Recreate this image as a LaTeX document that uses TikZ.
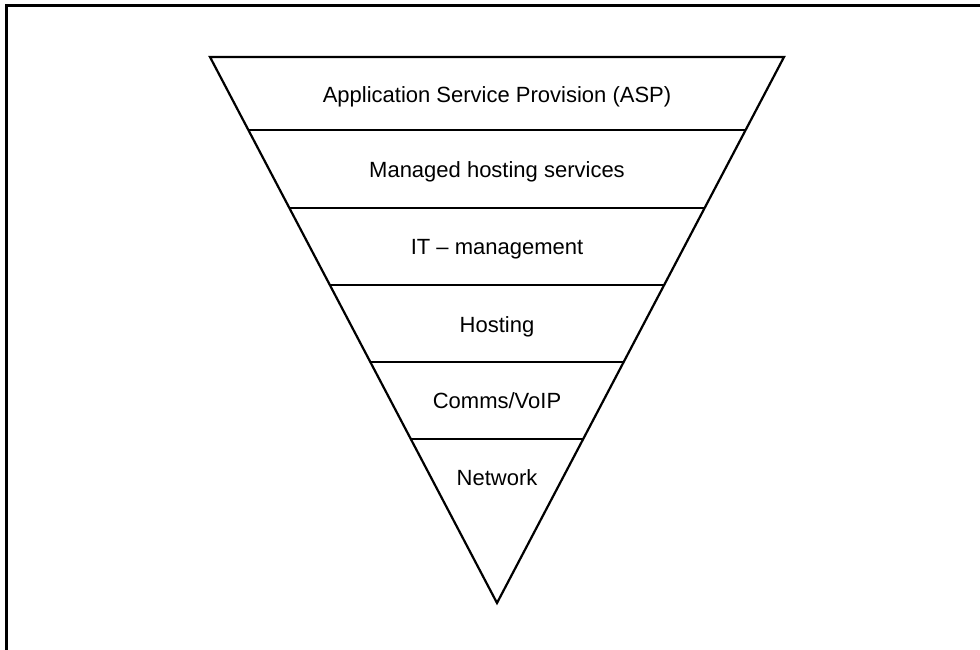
\documentclass[tikz,border=0pt]{standalone}
\usepackage{fontspec}
\setmainfont{Liberation Sans}
\usetikzlibrary{calc}
\begin{document}
\begin{tikzpicture}[x=1pt,y=-1pt,
  frameline/.style={line width=3pt,line cap=rect},
  triline/.style={line width=2.2pt,line join=miter},
  layerline/.style={line width=2.2pt},
  label/.style={anchor=base,font=\fontsize{22}{26}\selectfont,inner sep=0pt}]
\useasboundingbox (0,0) rectangle (980,650);
\coordinate (fl) at (6,650);
\coordinate (fc) at (6,6);
\coordinate (fr) at (980,6);
\draw[frameline] (fl) -- (fc) -- (fr);
\coordinate (tl) at (210,57);
\coordinate (tr) at (784,57);
\coordinate (bt) at (497,603);
\draw[triline] (tl) -- (tr) -- (bt) -- cycle;
\foreach \t [count=\i] in {0.1337,0.2766,0.4176,0.5586,0.6996}{
  \coordinate (l\i) at ($(tl)!\t!(bt)$);
  \coordinate (r\i) at ($(tr)!\t!(bt)$);
  \draw[layerline] (l\i) -- (r\i);
}
\node[label] (asp) at (497,103) {Application Service Provision (ASP)};
\node[label] (mhs) at (497,177) {Managed hosting services};
\node[label] (itm) at (497,254) {IT – management};
\node[label] (hst) at (497,332) {Hosting};
\node[label] (com) at (497,408) {Comms/VoIP};
\node[label] (net) at (497,485) {Network};
\end{tikzpicture}
\end{document}
